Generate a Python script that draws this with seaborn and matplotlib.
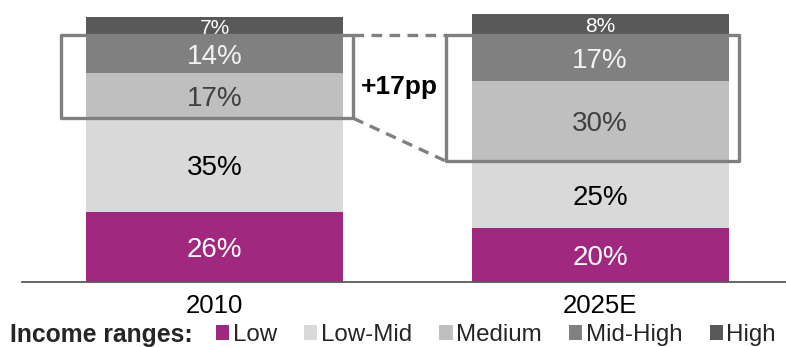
import matplotlib
matplotlib.use("Agg")
import matplotlib.pyplot as plt
import matplotlib.patches as mpatches
import seaborn as sns
import pandas as pd

years = ["2010", "2025E"]
segments = ["Low", "Low-Mid", "Medium", "Mid-High", "High"]
low = [26, 20]
low_mid = [35, 25]
medium = [17, 30]
mid_high = [14, 17]
high = [7, 8]
shift_label = "+17pp"

colors = ["#A0287F", "#D9D9D9", "#BFBFBF", "#808080", "#595959"]
text_colors = ["white", "black", "#404040", "#F2F2F2", "white"]
label_sizes = [20, 20, 20, 20, 15]

sns.set_theme(style="white")
plt.rcParams["font.family"] = ["Liberation Sans", "DejaVu Sans"]

fig = plt.figure(figsize=(7.86, 3.47), dpi=100)
ax = fig.add_axes([22 / 786, 65.5 / 347, 764 / 786, 267.5 / 347])

series = [low, low_mid, medium, mid_high, high]
bottoms = [0.0, 0.0]
bar_w = 0.667
for name, vals, col, tcol, fs in zip(segments, series, colors, text_colors, label_sizes):
    df = pd.DataFrame({"year": years, "share": vals})
    sns.barplot(data=df, x="year", y="share", order=years, color=col,
                saturation=1, width=bar_w, errorbar=None, bottom=list(bottoms),
                linewidth=0, ax=ax)
    for i, v in enumerate(vals):
        ax.annotate(f"{v}%", (i, bottoms[i] + v / 2), xytext=(0, -fs * 0.11),
                    textcoords="offset points", ha="center", va="center",
                    color=tcol, fontsize=fs, zorder=3)
    bottoms = [b + v for b, v in zip(bottoms, vals)]

# highlight boxes around Medium + Mid-High
box_color = "#808080"
box_l, box_r = 0.40, 0.36
box_edges = []
for i in range(2):
    y0 = low[i] + low_mid[i]
    y1 = y0 + medium[i] + mid_high[i]
    x0, x1 = i - box_l, i + box_r
    rect = mpatches.Rectangle((x0, y0), x1 - x0, y1 - y0, fill=False,
                              edgecolor=box_color, linewidth=2.4,
                              joinstyle="round", zorder=4, clip_on=False)
    ax.add_patch(rect)
    box_edges.append((x0, x1, y0, y1))

(_, r0, b0, t0), (l1, _, b1, t1) = box_edges
ax.plot([r0, l1], [t0, t1], ls=(0, (3.2, 2.2)), color=box_color, lw=2.4, zorder=4)
ax.plot([r0, l1], [b0, b1], ls=(0, (3.2, 2.2)), color=box_color, lw=2.4, zorder=4)
ax.text((r0 + l1) / 2, 72.8, shift_label, ha="center", va="center",
        fontsize=19, fontweight="bold", color="black")

ax.set_xlim(-0.5, 1.4825)
ax.set_ylim(0, 100)
ax.set_xlabel("")
ax.set_ylabel("")
ax.set_yticks([])
ax.tick_params(axis="x", length=0, labelsize=18.5, pad=9, colors="black")
for s in ["top", "right", "left"]:
    ax.spines[s].set_visible(False)
ax.spines["bottom"].set_color("#595959")
ax.spines["bottom"].set_linewidth(1.3)

# legend
legend_y = 1 - 335 / 347
legend_fs = 17.4
fig.text(10 / 786, legend_y, "Income ranges:", fontsize=17.8, fontweight="bold",
         ha="left", va="center")
handles = [mpatches.Patch(facecolor=c, edgecolor="none", label=n)
           for n, c in zip(segments, colors)]
fig.legend(handles=handles, loc="center left", bbox_to_anchor=(216 / 786, legend_y),
           ncol=5, frameon=False, fontsize=legend_fs, handlelength=0.55, handleheight=0.55,
           handletextpad=0.15, columnspacing=1.12, borderpad=0, borderaxespad=0)

fig.savefig("out.png", dpi=100)
